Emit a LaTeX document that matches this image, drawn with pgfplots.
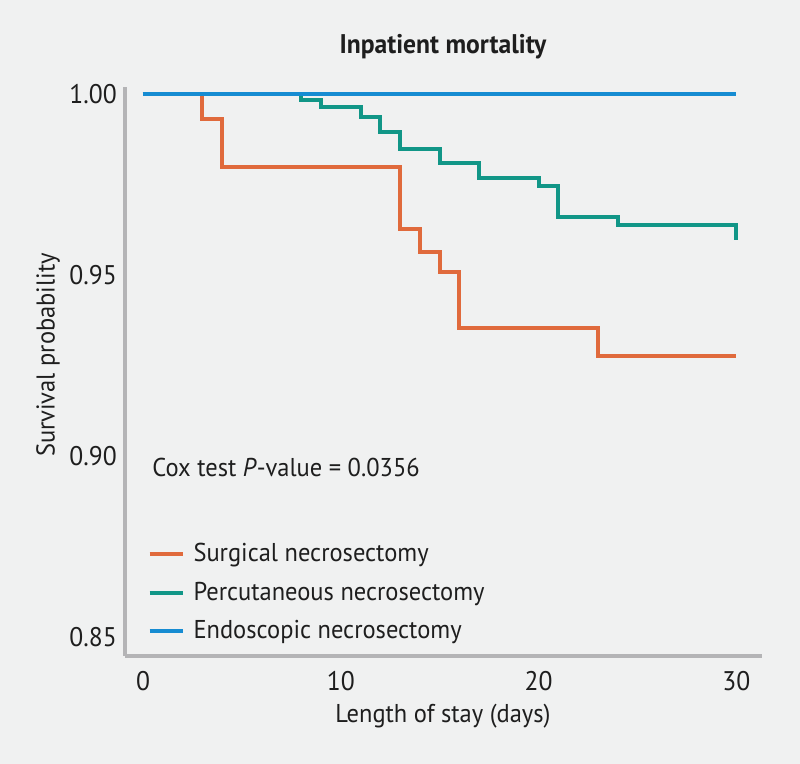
\documentclass[border=0pt]{standalone}
\usepackage{pgfplots}
\pgfplotsset{compat=1.18}
\usepackage{fontspec}
\setmainfont[FakeStretch=0.95]{PT Sans}
\usetikzlibrary{backgrounds}

\definecolor{bgcol}{RGB}{240,241,241}
\definecolor{axcol}{RGB}{180,180,182}
\definecolor{txtcol}{RGB}{30,30,30}
\definecolor{surgcol}{RGB}{224,106,60}
\definecolor{perccol}{RGB}{17,150,135}
\definecolor{endocol}{RGB}{22,140,210}

\begin{document}
\begin{tikzpicture}[font=\fontsize{11}{13}\selectfont, text=txtcol]
\begin{axis}[
    scale only axis,
    width=9.555cm, height=8.535cm,
    xmin=-0.91, xmax=31.3,
    ymin=0.8448, ymax=1.002,
    axis lines=left,
    axis line style={draw=axcol, line width=1.3pt, -},
    xtick={0,10,20,30},
    ytick={0.85,0.90,0.95,1.00},
    yticklabel style={/pgf/number format/.cd, fixed, fixed zerofill, precision=2},
    xticklabel style={yshift=-3pt},
    ticklabel style={font=\fontsize{11.5}{13}\selectfont},
    /pgf/number format/assume math mode=true,
    major tick length=0pt,
    tick style={draw=none},
    clip=false,
    legend style={at={(axis cs:-0.15,0.8787)}, anchor=north west, draw=none, fill=none,
        row sep=3.2pt, font=\fontsize{11}{13}\selectfont},
    legend cell align=left,
    legend image code/.code={\draw[#1, line width=1.7pt] (0cm,0cm) -- (0.5cm,0cm); \path (0.56cm,0cm);},
]
\addplot[const plot, surgcol, line width=1.7pt] coordinates {
    (0,1.0) (3,0.9931) (4,0.9798) (13,0.9627) (14,0.9564) (15,0.9508)
    (16,0.9354) (23,0.9276) (30,0.9276)
};
\addlegendentry{Surgical necrosectomy}
\addplot[const plot, perccol, line width=1.7pt] coordinates {
    (0,1.0) (8,0.9983) (9,0.9964) (11,0.9936) (12,0.9895) (13,0.9848)
    (15,0.9809) (17,0.9768) (20,0.9746) (21,0.9660) (24,0.9638)
    (30,0.9638) (30,0.9597)
};
\addlegendentry{Percutaneous necrosectomy}
\addplot[const plot, endocol, line width=1.7pt] coordinates {
    (0,1.0) (30,1.0)
};
\addlegendentry{Endoscopic necrosectomy}
\end{axis}
\node[font=\bfseries\fontsize{11.5}{13}\selectfont] at (4.77cm,9.135cm) {Inpatient mortality};
\node[rotate=90] at (-1.155cm,4.515cm) {Survival probability};
\node at (4.77cm,-0.9cm) {Length of stay (days)};
\node[anchor=west, inner sep=0pt] at (0.405cm,2.835cm) {Cox test \textit{P}-value = 0.0356};
\path (-1.875cm,-1.62cm) rectangle (10.125cm,9.84cm);
\begin{scope}[on background layer]
\fill[bgcol] (-1.875cm,-1.62cm) rectangle (10.125cm,9.84cm);
\end{scope}
\end{tikzpicture}
\end{document}
